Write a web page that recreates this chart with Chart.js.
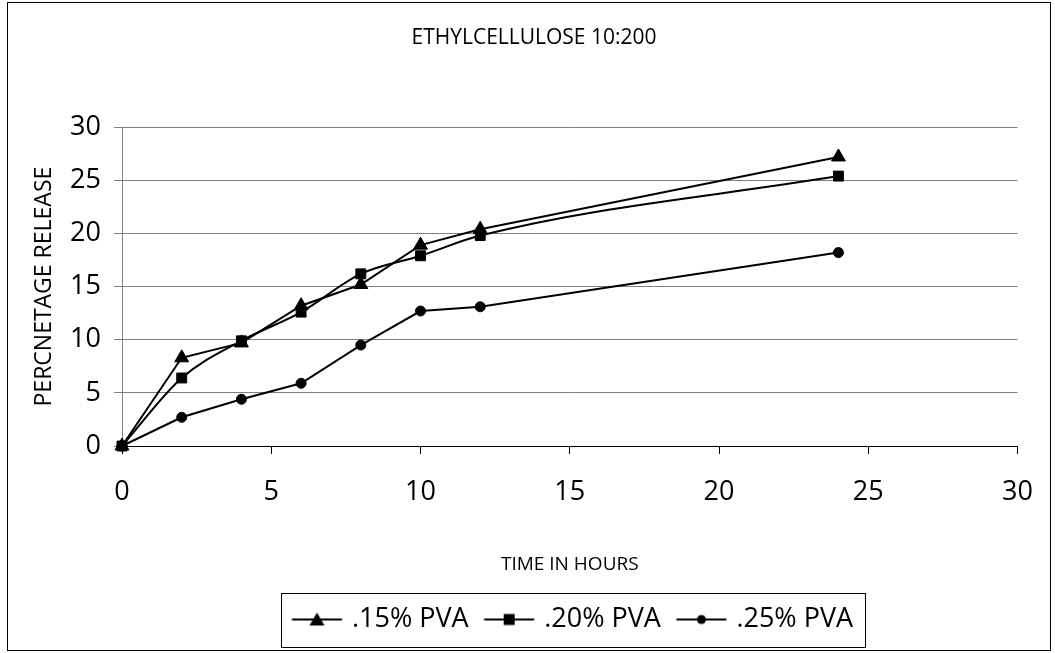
<!DOCTYPE html>
<html>
<head>
<meta charset="utf-8">
<script src="https://cdn.jsdelivr.net/npm/chart.js@4.4.1/dist/chart.umd.min.js"></script>
<style>
  html, body { margin: 0; padding: 0; background: #fff; }
  #wrap { width: 1055px; height: 653px; position: relative; }
</style>
</head>
<body>
<div id="wrap"><canvas id="releaseChart"></canvas></div>
<script>
// values
let hours = [0, 2, 4, 6, 8, 10, 12, 24];
let pva15 = [0, 8.3, 9.7, 13.2, 15.2, 18.9, 20.4, 27.2];
let pva20 = [0, 6.4, 9.9, 12.6, 16.2, 17.9, 19.8, 25.4];
let pva25 = [0, 2.7, 4.4, 5.9, 9.5, 12.7, 13.1, 18.2];
let seriesNames = [".15% PVA", ".20% PVA", ".25% PVA"];
let axisMin = 0;
let axisMax = 30;
let axisStep = 5;

Chart.defaults.font.family = "'Open Sans', 'Noto Sans', sans-serif";
Chart.defaults.color = "#000";

function toPoints(values) {
  let pts = [];
  for (let i = 0; i < hours.length; i++) {
    pts.push({ x: hours[i], y: values[i] });
  }
  return pts;
}

// legend icons: short line with the marker in the middle
function makeIcon(shape) {
  let c = document.createElement("canvas");
  c.width = 70;
  c.height = 20;
  let g = c.getContext("2d");
  let cx = 39.5, cy = 10;
  g.strokeStyle = "#000";
  g.fillStyle = "#000";
  g.lineWidth = 2;
  g.beginPath();
  g.moveTo(cx - 25, cy);
  g.lineTo(cx + 25, cy);
  g.stroke();
  g.beginPath();
  if (shape == "triangle") {
    g.moveTo(cx, cy - 7);
    g.lineTo(cx + 7.5, cy + 6);
    g.lineTo(cx - 7.5, cy + 6);
    g.closePath();
  } else if (shape == "rect") {
    g.rect(cx - 5.5, cy - 5.5, 11, 11);
  } else {
    g.arc(cx, cy, 4.5, 0, Math.PI * 2);
  }
  g.fill();
  return c;
}
let icons = [makeIcon("triangle"), makeIcon("rect"), makeIcon("circle")];

let framePlugin = {
  id: "frame",
  beforeDraw(chart) {
    let ctx = chart.ctx;
    ctx.save();
    ctx.fillStyle = "#fff";
    ctx.fillRect(0, 0, chart.width, chart.height);
    ctx.strokeStyle = "#000";
    ctx.lineWidth = 1;
    ctx.strokeRect(7.5, 2.5, 1043, 648);
    ctx.restore();
  },
  afterDraw(chart) {
    let boxes = chart.legend.legendHitBoxes;
    if (!boxes || !boxes.length) return;
    let first = boxes[0];
    let last = boxes[boxes.length - 1];
    let ctx = chart.ctx;
    ctx.save();
    ctx.strokeStyle = "#000";
    ctx.lineWidth = 1;
    let left = Math.round(first.left - 5) + 0.5;
    let right = Math.round(last.left + last.width + 12) + 0.5;
    let top = Math.round(first.top - 13) + 0.5;
    let bottom = Math.round(first.top + first.height + 14) + 0.5;
    ctx.strokeRect(left, top, right - left, bottom - top);
    ctx.restore();
  }
};

let lineStyle = {
  borderColor: "#000",
  borderWidth: 2,
  pointBackgroundColor: "#000",
  pointBorderColor: "#000",
  pointBorderWidth: 1,
  clip: false
};

let cfg = {
  type: "line",
  data: {
    datasets: [
      Object.assign({ label: seriesNames[0], data: toPoints(pva15), pointStyle: "triangle", pointRadius: 8, tension: 0 }, lineStyle),
      Object.assign({ label: seriesNames[1], data: toPoints(pva20), pointStyle: "rect", pointRadius: 7, cubicInterpolationMode: "monotone" }, lineStyle),
      Object.assign({ label: seriesNames[2], data: toPoints(pva25), pointStyle: "circle", pointRadius: 5, tension: 0 }, lineStyle)
    ]
  },
  options: {
    responsive: true,
    maintainAspectRatio: false,
    animation: false,
    layout: { padding: { left: 13, right: 0, top: 0, bottom: 10 } },
    plugins: {
      title: {
        display: true,
        text: "ETHYLCELLULOSE 10:200",
        font: { size: 21, weight: "normal" },
        color: "#000",
        padding: { top: 25, bottom: 77 }
      },
      legend: {
        position: "bottom",
        fullSize: false,
        labels: {
          usePointStyle: true,
          pointStyleWidth: 52,
          padding: 10,
          color: "#000",
          font: { size: 27 },
          generateLabels(chart) {
            let items = Chart.defaults.plugins.legend.labels.generateLabels(chart);
            items.forEach((item, i) => {
              item.pointStyle = icons[i];
            });
            return items;
          }
        }
      },
      tooltip: { enabled: false }
    },
    scales: {
      x: {
        type: "linear",
        min: axisMin,
        max: axisMax,
        ticks: { stepSize: axisStep, padding: 22, font: { size: 27 }, color: "#000", maxRotation: 0 },
        grid: { drawOnChartArea: false, tickLength: 8, tickColor: "#000" },
        border: { color: "#000", width: 1 },
        title: { display: true, text: "TIME IN HOURS", font: { size: 19 }, color: "#000", padding: { top: 0, bottom: 20 } },
        afterFit(s) { s.height = 150; }
      },
      y: {
        type: "linear",
        min: axisMin,
        max: axisMax,
        ticks: { stepSize: axisStep, padding: 13, font: { size: 27 }, color: "#000" },
        grid: { color: "#808080", tickLength: 8, tickColor: "#808080" },
        border: { color: "#808080", width: 1 },
        title: { display: true, text: "PERCNETAGE RELEASE", font: { size: 23 }, color: "#000", padding: { top: 18, bottom: 0 } },
        afterFit(s) { s.width = 109; }
      },
      yRight: {
        type: "linear",
        position: "right",
        min: axisMin,
        max: axisMax,
        grid: { display: false },
        ticks: { display: false },
        border: { display: false },
        afterFit(s) { s.width = 35; }
      }
    }
  },
  plugins: [framePlugin]
};

let releaseChart = new Chart(document.getElementById("releaseChart"), cfg);
</script>
</body>
</html>
